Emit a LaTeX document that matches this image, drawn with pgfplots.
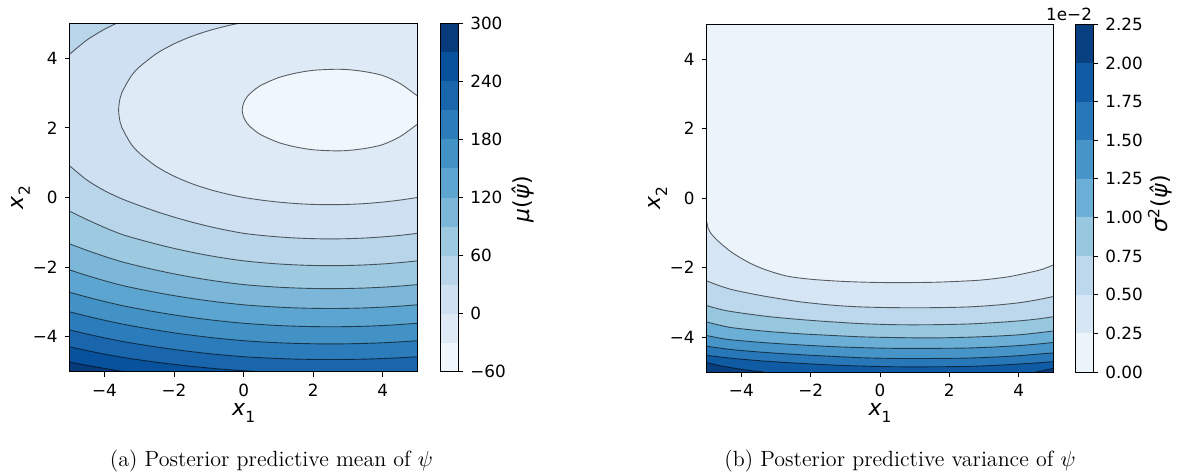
\documentclass[border=0pt]{standalone}
\usepackage{fontspec}
\usepackage{pgfplots}
\pgfplotsset{compat=1.18}
\newfontfamily\dv{DejaVu Sans}
\newcommand{\tickfont}{\dv\fontsize{8.4}{10}\selectfont}
\newcommand{\labfont}{\dv\fontsize{11}{13}\selectfont}
% Blues colormap, 12 bands (a)
\definecolor{a0}{RGB}{239,246,252}
\definecolor{a1}{RGB}{222,235,247}
\definecolor{a2}{RGB}{206,224,242}
\definecolor{a3}{RGB}{185,213,234}
\definecolor{a4}{RGB}{158,202,225}
\definecolor{a5}{RGB}{124,183,218}
\definecolor{a6}{RGB}{93,165,209}
\definecolor{a7}{RGB}{66,146,198}
\definecolor{a8}{RGB}{44,124,187}
\definecolor{a9}{RGB}{25,102,173}
\definecolor{a10}{RGB}{8,81,156}
\definecolor{a11}{RGB}{8,59,123}
% Blues colormap, 9 bands (b)
\definecolor{b0}{RGB}{236,244,251}
\definecolor{b1}{RGB}{214,230,244}
\definecolor{b2}{RGB}{189,215,236}
\definecolor{b3}{RGB}{152,199,224}
\definecolor{b4}{RGB}{107,174,214}
\definecolor{b5}{RGB}{71,149,200}
\definecolor{b6}{RGB}{40,120,185}
\definecolor{b7}{RGB}{16,92,164}
\definecolor{b8}{RGB}{8,63,129}

\pgfplotsset{
  base/.style={scale only axis, axis on top, no markers, tick align=outside,
    major tick length=2.5pt,
    tick style={black, line width=0.4pt},
    axis line style={black, line width=0.4pt},
    ticklabel style={font=\tickfont}},
  main/.style={base, xmin=-5, xmax=5, ymin=-5, ymax=5,
    xtick={-4,-2,0,2,4}, xticklabels={−4,−2,0,2,4},
    ytick={-4,-2,0,2,4}, yticklabels={−4,−2,0,2,4},
    xtick pos=bottom, ytick pos=left,
    xlabel={\labfont\textit{x}\raisebox{-0.3em}{\fontsize{7.7}{8}\selectfont 1}},
    ylabel={\labfont\textit{x}\raisebox{-0.3em}{\fontsize{7.7}{8}\selectfont 2}},
    xlabel style={at={(axis description cs:0.5,-0.126)}, anchor=base},
    ylabel style={at={(axis description cs:-0.133,0.5)}, anchor=base}},
  cbar/.style={base, xmin=0, xmax=1, xtick=\empty,
    ytick pos=right, yticklabel pos=right},
  cl/.style={black, opacity=0.6, line width=0.45pt, smooth},
  fl/.style={draw=none, fill=#1},
}

\begin{document}
\begin{tikzpicture}[x=1pt,y=1pt]
\path[use as bounding box] (0pt,0pt) rectangle (588.5pt,-238pt);

% ================= (a) mean =================
\begin{axis}[main, at={(34.8pt,-185.85pt)}, anchor=south west, width=174pt, height=174.2pt]
\addplot[fl=a11] coordinates {(-5,-5) (5,-5) (5,5) (-5,5)};
\addplot[fl=a10] coordinates {(-5,-4.724) (-4.5,-4.818) (-4,-4.906) (-3.5,-4.988) (-3.42,-5) (5,-5) (5,5) (-5,5)};
\addplot[fl=a9] coordinates {(-5,-4.285) (-4.5,-4.393) (-4,-4.494) (-3.5,-4.585) (-3,-4.660) (-2.5,-4.728) (-2,-4.790) (-1.5,-4.845) (-1,-4.894) (-0.5,-4.936) (0,-4.972) (0.45,-5) (5,-5) (5,5) (-5,5)};
\addplot[fl=a8] coordinates {(-5,-3.801) (-4.5,-3.918) (-4,-4.027) (-3.5,-4.127) (-3,-4.212) (-2.5,-4.290) (-2,-4.361) (-1.5,-4.424) (-1,-4.480) (-0.5,-4.528) (0,-4.569) (0.5,-4.598) (1,-4.621) (1.5,-4.638) (2,-4.647) (2.5,-4.651) (3,-4.647) (3.5,-4.638) (4,-4.621) (4.5,-4.598) (5,-4.569) (5,5) (-5,5)};
\addplot[fl=a7] coordinates {(-5,-3.282) (-4.5,-3.406) (-4,-3.522) (-3.5,-3.628) (-3,-3.721) (-2.5,-3.806) (-2,-3.883) (-1.5,-3.951) (-1,-4.012) (-0.5,-4.065) (0,-4.109) (0.5,-4.143) (1,-4.169) (1.5,-4.187) (2,-4.198) (2.5,-4.202) (3,-4.198) (3.5,-4.187) (4,-4.169) (4.5,-4.143) (5,-4.109) (5,5) (-5,5)};
\addplot[fl=a6] coordinates {(-5,-2.721) (-4.5,-2.857) (-4,-2.984) (-3.5,-3.099) (-3,-3.198) (-2.5,-3.288) (-2,-3.369) (-1.5,-3.442) (-1,-3.506) (-0.5,-3.562) (0,-3.609) (0.5,-3.645) (1,-3.674) (1.5,-3.694) (2,-3.706) (2.5,-3.710) (3,-3.706) (3.5,-3.694) (4,-3.674) (4.5,-3.645) (5,-3.609) (5,5) (-5,5)};
\addplot[fl=a5] coordinates {(-5,-2.079) (-4.5,-2.239) (-4,-2.387) (-3.5,-2.521) (-3,-2.629) (-2.5,-2.727) (-2,-2.816) (-1.5,-2.896) (-1,-2.966) (-0.5,-3.027) (0,-3.079) (0.5,-3.117) (1,-3.147) (1.5,-3.168) (2,-3.181) (2.5,-3.186) (3,-3.181) (3.5,-3.168) (4,-3.147) (4.5,-3.117) (5,-3.079) (5,5) (-5,5)};
\addplot[fl=a4] coordinates {(-5,-1.331) (-4.5,-1.516) (-4,-1.689) (-3.5,-1.844) (-3,-1.971) (-2.5,-2.086) (-2,-2.191) (-1.5,-2.284) (-1,-2.367) (-0.5,-2.438) (0,-2.499) (0.5,-2.541) (1,-2.574) (1.5,-2.597) (2,-2.611) (2.5,-2.616) (3,-2.611) (3.5,-2.597) (4,-2.574) (4.5,-2.541) (5,-2.499) (5,5) (-5,5)};
\addplot[fl=a3] coordinates {(-5,-0.393) (-4.5,-0.634) (-4,-0.859) (-3.5,-1.058) (-3,-1.205) (-2.5,-1.339) (-2,-1.460) (-1.5,-1.569) (-1,-1.665) (-0.5,-1.748) (0,-1.818) (0.5,-1.868) (1,-1.907) (1.5,-1.934) (2,-1.951) (2.5,-1.956) (3,-1.951) (3.5,-1.934) (4,-1.907) (4.5,-1.868) (5,-1.818) (5,5) (-5,5)};
\addplot[fl=a2] coordinates {(-3.65,5) (-4,4.828) (-4.5,4.522) (-5,4.112) (-5,0.910) (-4.5,0.501) (-4,0.198) (-3.5,-0.037) (-3,-0.229) (-2.5,-0.404) (-2,-0.562) (-1.5,-0.703) (-1,-0.828) (-0.5,-0.936) (0,-1.028) (0.5,-1.086) (1,-1.130) (1.5,-1.162) (2,-1.181) (2.5,-1.188) (3,-1.181) (3.5,-1.162) (4,-1.130) (4.5,-1.086) (5,-1.028) (5,5)};
\addplot[fl=a1] coordinates {(-0.13,5) (-0.5,4.921) (-1,4.789) (-1.5,4.622) (-2,4.410) (-2.5,4.132) (-3,3.742) (-3.25,3.457) (-3.5,3.007) (-3.55,2.848) (-3.592,2.51) (-3.55,2.172) (-3.5,2.013) (-3.25,1.563) (-3,1.278) (-2.5,0.889) (-2,0.613) (-1.5,0.402) (-1,0.237) (-0.5,0.106) (0,0.002) (0.5,-0.073) (1,-0.131) (1.5,-0.173) (2,-0.198) (2.5,-0.206) (3,-0.198) (3.5,-0.173) (4,-0.131) (4.5,-0.073) (5,0.002) (5,5)};
\addplot[fl=a0] coordinates {(5,2.91) (4.5,3.27) (4,3.50) (3.5,3.61) (3,3.67) (2.6,3.68) (2,3.65) (1.5,3.57) (1,3.44) (0.5,3.22) (0.25,3.04) (0.1,2.89) (0,2.71) (-0.04,2.51) (0,2.31) (0.1,2.13) (0.25,1.98) (0.5,1.80) (1,1.58) (1.5,1.45) (2,1.37) (2.6,1.34) (3,1.35) (3.5,1.41) (4,1.52) (4.5,1.75) (5,2.11)};
% contour lines
\addplot[cl] coordinates {(-5,-4.724) (-4.5,-4.818) (-4,-4.906) (-3.5,-4.988) (-3.42,-5)};
\addplot[cl] coordinates {(-5,-4.285) (-4.5,-4.393) (-4,-4.494) (-3.5,-4.585) (-3,-4.660) (-2.5,-4.728) (-2,-4.790) (-1.5,-4.845) (-1,-4.894) (-0.5,-4.936) (0,-4.972) (0.45,-5)};
\addplot[cl] coordinates {(-5,-3.801) (-4.5,-3.918) (-4,-4.027) (-3.5,-4.127) (-3,-4.212) (-2.5,-4.290) (-2,-4.361) (-1.5,-4.424) (-1,-4.480) (-0.5,-4.528) (0,-4.569) (0.5,-4.598) (1,-4.621) (1.5,-4.638) (2,-4.647) (2.5,-4.651) (3,-4.647) (3.5,-4.638) (4,-4.621) (4.5,-4.598) (5,-4.569)};
\addplot[cl] coordinates {(-5,-3.282) (-4.5,-3.406) (-4,-3.522) (-3.5,-3.628) (-3,-3.721) (-2.5,-3.806) (-2,-3.883) (-1.5,-3.951) (-1,-4.012) (-0.5,-4.065) (0,-4.109) (0.5,-4.143) (1,-4.169) (1.5,-4.187) (2,-4.198) (2.5,-4.202) (3,-4.198) (3.5,-4.187) (4,-4.169) (4.5,-4.143) (5,-4.109)};
\addplot[cl] coordinates {(-5,-2.721) (-4.5,-2.857) (-4,-2.984) (-3.5,-3.099) (-3,-3.198) (-2.5,-3.288) (-2,-3.369) (-1.5,-3.442) (-1,-3.506) (-0.5,-3.562) (0,-3.609) (0.5,-3.645) (1,-3.674) (1.5,-3.694) (2,-3.706) (2.5,-3.710) (3,-3.706) (3.5,-3.694) (4,-3.674) (4.5,-3.645) (5,-3.609)};
\addplot[cl] coordinates {(-5,-2.079) (-4.5,-2.239) (-4,-2.387) (-3.5,-2.521) (-3,-2.629) (-2.5,-2.727) (-2,-2.816) (-1.5,-2.896) (-1,-2.966) (-0.5,-3.027) (0,-3.079) (0.5,-3.117) (1,-3.147) (1.5,-3.168) (2,-3.181) (2.5,-3.186) (3,-3.181) (3.5,-3.168) (4,-3.147) (4.5,-3.117) (5,-3.079)};
\addplot[cl] coordinates {(-5,-1.331) (-4.5,-1.516) (-4,-1.689) (-3.5,-1.844) (-3,-1.971) (-2.5,-2.086) (-2,-2.191) (-1.5,-2.284) (-1,-2.367) (-0.5,-2.438) (0,-2.499) (0.5,-2.541) (1,-2.574) (1.5,-2.597) (2,-2.611) (2.5,-2.616) (3,-2.611) (3.5,-2.597) (4,-2.574) (4.5,-2.541) (5,-2.499)};
\addplot[cl] coordinates {(-5,-0.393) (-4.5,-0.634) (-4,-0.859) (-3.5,-1.058) (-3,-1.205) (-2.5,-1.339) (-2,-1.460) (-1.5,-1.569) (-1,-1.665) (-0.5,-1.748) (0,-1.818) (0.5,-1.868) (1,-1.907) (1.5,-1.934) (2,-1.951) (2.5,-1.956) (3,-1.951) (3.5,-1.934) (4,-1.907) (4.5,-1.868) (5,-1.818)};
\addplot[cl] coordinates {(-3.65,5) (-4,4.828) (-4.5,4.522) (-5,4.112)};
\addplot[cl] coordinates {(-5,0.910) (-4.5,0.501) (-4,0.198) (-3.5,-0.037) (-3,-0.229) (-2.5,-0.404) (-2,-0.562) (-1.5,-0.703) (-1,-0.828) (-0.5,-0.936) (0,-1.028) (0.5,-1.086) (1,-1.130) (1.5,-1.162) (2,-1.181) (2.5,-1.188) (3,-1.181) (3.5,-1.162) (4,-1.130) (4.5,-1.086) (5,-1.028)};
\addplot[cl] coordinates {(-0.13,5) (-0.5,4.921) (-1,4.789) (-1.5,4.622) (-2,4.410) (-2.5,4.132) (-3,3.742) (-3.25,3.457) (-3.5,3.007) (-3.55,2.848) (-3.592,2.51) (-3.55,2.172) (-3.5,2.013) (-3.25,1.563) (-3,1.278) (-2.5,0.889) (-2,0.613) (-1.5,0.402) (-1,0.237) (-0.5,0.106) (0,0.002) (0.5,-0.073) (1,-0.131) (1.5,-0.173) (2,-0.198) (2.5,-0.206) (3,-0.198) (3.5,-0.173) (4,-0.131) (4.5,-0.073) (5,0.002)};
\addplot[cl] coordinates {(5,2.91) (4.5,3.27) (4,3.50) (3.5,3.61) (3,3.67) (2.6,3.68) (2,3.65) (1.5,3.57) (1,3.44) (0.5,3.22) (0.25,3.04) (0.1,2.89) (0,2.71) (-0.04,2.51) (0,2.31) (0.1,2.13) (0.25,1.98) (0.5,1.80) (1,1.58) (1.5,1.45) (2,1.37) (2.6,1.34) (3,1.35) (3.5,1.41) (4,1.52) (4.5,1.75) (5,2.11)};
\end{axis}

% colorbar (a)
\begin{axis}[cbar, at={(220.15pt,-185.85pt)}, anchor=south west, width=9pt, height=174.2pt,
  ymin=-60, ymax=300, ytick={-60,0,60,120,180,240,300},
  yticklabels={−60,0,60,120,180,240,300},
  ylabel={\labfont\textit{μ}(\textit{ψ̂})},
  ylabel style={at={(axis description cs:4.59,0.496)}, anchor=center}]
\addplot[fl=a0] coordinates {(0,-60) (1,-60) (1,-30) (0,-30)};
\addplot[fl=a1] coordinates {(0,-30) (1,-30) (1,0) (0,0)};
\addplot[fl=a2] coordinates {(0,0) (1,0) (1,30) (0,30)};
\addplot[fl=a3] coordinates {(0,30) (1,30) (1,60) (0,60)};
\addplot[fl=a4] coordinates {(0,60) (1,60) (1,90) (0,90)};
\addplot[fl=a5] coordinates {(0,90) (1,90) (1,120) (0,120)};
\addplot[fl=a6] coordinates {(0,120) (1,120) (1,150) (0,150)};
\addplot[fl=a7] coordinates {(0,150) (1,150) (1,180) (0,180)};
\addplot[fl=a8] coordinates {(0,180) (1,180) (1,210) (0,210)};
\addplot[fl=a9] coordinates {(0,210) (1,210) (1,240) (0,240)};
\addplot[fl=a10] coordinates {(0,240) (1,240) (1,270) (0,270)};
\addplot[fl=a11] coordinates {(0,270) (1,270) (1,300) (0,300)};
\end{axis}

% ================= (b) variance (units of 1e-2) =================
\begin{axis}[main, at={(353.35pt,-186pt)}, anchor=south west, width=173.3pt, height=173.85pt]
\addplot[fl=b8] coordinates {(-5,-5) (5,-5) (5,5) (-5,5)};
\addplot[fl=b7] coordinates {(-5,-4.73) (-4.6,-4.82) (-4.2,-4.89) (-3.8,-4.95) (-3.35,-5) (4.5,-5) (4.75,-4.95) (5,-4.89) (5,5) (-5,5)};
\addplot[fl=b6] coordinates {(-5,-4.52) (-4.23,-4.61) (-3.27,-4.69) (-2.31,-4.75) (-1.35,-4.80) (-0.5,-4.83) (0.5,-4.85) (1.5,-4.85) (2.5,-4.84) (3.3,-4.81) (4,-4.77) (4.5,-4.74) (5,-4.70) (5,5) (-5,5)};
\addplot[fl=b5] coordinates {(-5,-4.26) (-4.23,-4.36) (-3.27,-4.44) (-2.31,-4.50) (-1.35,-4.55) (-0.5,-4.59) (0.5,-4.61) (1.5,-4.61) (2.5,-4.60) (3.3,-4.57) (4,-4.53) (4.5,-4.49) (5,-4.45) (5,5) (-5,5)};
\addplot[fl=b4] coordinates {(-5,-3.95) (-4.6,-4.03) (-4.23,-4.08) (-3.27,-4.16) (-2.31,-4.22) (-1.35,-4.27) (-0.5,-4.30) (0.5,-4.32) (1.5,-4.32) (2.5,-4.31) (3.3,-4.28) (4,-4.24) (4.5,-4.20) (5,-4.15) (5,5) (-5,5)};
\addplot[fl=b3] coordinates {(-5,-3.56) (-4.6,-3.66) (-4.23,-3.73) (-3.27,-3.83) (-2.31,-3.90) (-1.35,-3.95) (-0.5,-3.99) (0.5,-4.01) (1.5,-4.02) (2.5,-4.00) (3.3,-3.97) (4,-3.93) (4.5,-3.88) (5,-3.82) (5,5) (-5,5)};
\addplot[fl=b2] coordinates {(-5,-3.09) (-4.6,-3.20) (-4.23,-3.27) (-3.27,-3.40) (-2.31,-3.49) (-1.35,-3.56) (-0.5,-3.61) (0.5,-3.64) (1.5,-3.64) (2.5,-3.62) (3.3,-3.58) (4,-3.53) (4.5,-3.48) (5,-3.41) (5,5) (-5,5)};
\addplot[fl=b1] coordinates {(-5,-2.38) (-4.6,-2.53) (-4.23,-2.64) (-3.75,-2.74) (-3.27,-2.83) (-2.31,-2.98) (-1.35,-3.08) (-0.5,-3.13) (0.5,-3.15) (1.5,-3.15) (2.5,-3.13) (3.3,-3.08) (4,-3.01) (4.5,-2.93) (5,-2.83) (5,5) (-5,5)};
\addplot[fl=b0] coordinates {(-5,-0.68) (-4.96,-0.86) (-4.9,-0.98) (-4.78,-1.13) (-4.62,-1.28) (-4.43,-1.44) (-4.23,-1.59) (-3.75,-1.87) (-3.27,-2.07) (-2.69,-2.24) (-2.02,-2.33) (-1.15,-2.39) (-0.3,-2.42) (0.5,-2.43) (1.5,-2.42) (2.08,-2.40) (2.86,-2.36) (3.5,-2.29) (3.82,-2.24) (4.39,-2.12) (4.7,-2.04) (5,-1.92) (5,5) (-5,5)};
% contour lines
\addplot[cl] coordinates {(-5,-4.73) (-4.6,-4.82) (-4.2,-4.89) (-3.8,-4.95) (-3.35,-5)};
\addplot[cl] coordinates {(4.5,-5) (4.75,-4.95) (5,-4.89)};
\addplot[cl] coordinates {(-5,-4.52) (-4.23,-4.61) (-3.27,-4.69) (-2.31,-4.75) (-1.35,-4.80) (-0.5,-4.83) (0.5,-4.85) (1.5,-4.85) (2.5,-4.84) (3.3,-4.81) (4,-4.77) (4.5,-4.74) (5,-4.70)};
\addplot[cl] coordinates {(-5,-4.26) (-4.23,-4.36) (-3.27,-4.44) (-2.31,-4.50) (-1.35,-4.55) (-0.5,-4.59) (0.5,-4.61) (1.5,-4.61) (2.5,-4.60) (3.3,-4.57) (4,-4.53) (4.5,-4.49) (5,-4.45)};
\addplot[cl] coordinates {(-5,-3.95) (-4.6,-4.03) (-4.23,-4.08) (-3.27,-4.16) (-2.31,-4.22) (-1.35,-4.27) (-0.5,-4.30) (0.5,-4.32) (1.5,-4.32) (2.5,-4.31) (3.3,-4.28) (4,-4.24) (4.5,-4.20) (5,-4.15)};
\addplot[cl] coordinates {(-5,-3.56) (-4.6,-3.66) (-4.23,-3.73) (-3.27,-3.83) (-2.31,-3.90) (-1.35,-3.95) (-0.5,-3.99) (0.5,-4.01) (1.5,-4.02) (2.5,-4.00) (3.3,-3.97) (4,-3.93) (4.5,-3.88) (5,-3.82)};
\addplot[cl] coordinates {(-5,-3.09) (-4.6,-3.20) (-4.23,-3.27) (-3.27,-3.40) (-2.31,-3.49) (-1.35,-3.56) (-0.5,-3.61) (0.5,-3.64) (1.5,-3.64) (2.5,-3.62) (3.3,-3.58) (4,-3.53) (4.5,-3.48) (5,-3.41)};
\addplot[cl] coordinates {(-5,-2.38) (-4.6,-2.53) (-4.23,-2.64) (-3.75,-2.74) (-3.27,-2.83) (-2.31,-2.98) (-1.35,-3.08) (-0.5,-3.13) (0.5,-3.15) (1.5,-3.15) (2.5,-3.13) (3.3,-3.08) (4,-3.01) (4.5,-2.93) (5,-2.83)};
\addplot[cl] coordinates {(-5,-0.68) (-4.96,-0.86) (-4.9,-0.98) (-4.78,-1.13) (-4.62,-1.28) (-4.43,-1.44) (-4.23,-1.59) (-3.75,-1.87) (-3.27,-2.07) (-2.69,-2.24) (-2.02,-2.33) (-1.15,-2.39) (-0.3,-2.42) (0.5,-2.43) (1.5,-2.42) (2.08,-2.40) (2.86,-2.36) (3.5,-2.29) (3.82,-2.24) (4.39,-2.12) (4.7,-2.04) (5,-1.92)};
\end{axis}

% colorbar (b)
\begin{axis}[cbar, at={(537.85pt,-186pt)}, anchor=south west, width=8.8pt, height=173.85pt,
  ymin=0, ymax=2.25, ytick={0,0.25,0.5,0.75,1,1.25,1.5,1.75,2,2.25},
  yticklabels={0.00,0.25,0.50,0.75,1.00,1.25,1.50,1.75,2.00,2.25},
  ylabel={\labfont\textit{σ}\textsuperscript{2}(\textit{ψ̂})},
  ylabel style={at={(axis description cs:4.79,0.483)}, anchor=center}]
\addplot[fl=b0] coordinates {(0,0) (1,0) (1,0.25) (0,0.25)};
\addplot[fl=b1] coordinates {(0,0.25) (1,0.25) (1,0.5) (0,0.5)};
\addplot[fl=b2] coordinates {(0,0.5) (1,0.5) (1,0.75) (0,0.75)};
\addplot[fl=b3] coordinates {(0,0.75) (1,0.75) (1,1) (0,1)};
\addplot[fl=b4] coordinates {(0,1) (1,1) (1,1.25) (0,1.25)};
\addplot[fl=b5] coordinates {(0,1.25) (1,1.25) (1,1.5) (0,1.5)};
\addplot[fl=b6] coordinates {(0,1.5) (1,1.5) (1,1.75) (0,1.75)};
\addplot[fl=b7] coordinates {(0,1.75) (1,1.75) (1,2) (0,2)};
\addplot[fl=b8] coordinates {(0,2) (1,2) (1,2.25) (0,2.25)};
\end{axis}
\node[anchor=base east, font=\tickfont, inner sep=0pt] at (546.2pt,-10.4pt) {1e−2};

% captions
\node[anchor=base, font=\fontsize{11}{13}\selectfont, inner sep=0pt] at (135.75pt,-233pt) {(a) Posterior predictive mean of $\psi$};
\node[anchor=base, font=\fontsize{11}{13}\selectfont, inner sep=0pt] at (450pt,-233pt) {(b) Posterior predictive variance of $\psi$};
\end{tikzpicture}
\end{document}
